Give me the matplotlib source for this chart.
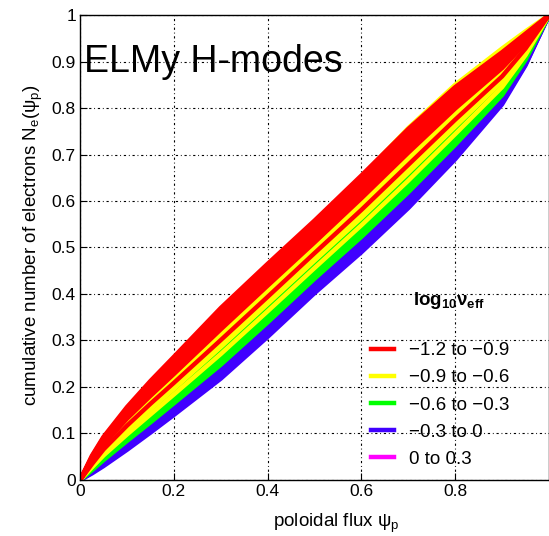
import matplotlib
matplotlib.use('Agg')
from matplotlib import pyplot as plt
from matplotlib.lines import Line2D

plt.rcParams['font.family'] = ['Liberation Sans', 'DejaVu Sans']
plt.rcParams['mathtext.fontset'] = 'custom'
plt.rcParams['mathtext.rm'] = 'Liberation Sans'
plt.rcParams['mathtext.it'] = 'Liberation Sans'
plt.rcParams['mathtext.bf'] = 'Liberation Sans:bold'

psi = [0, 0.025, 0.05, 0.1, 0.15, 0.2, 0.3, 0.4, 0.5, 0.6, 0.7, 0.8, 0.9, 0.95, 1.0]

# cumulative electron number, one row per discharge
red_curves = [
    [0, .052, .093, .157, .213, .265, .370, .465, .558, .655, .755, .845, .920, .960, 1],
    [0, .050, .091, .154, .207, .259, .362, .457, .550, .647, .746, .837, .914, .956, 1],
    [0, .048, .089, .151, .203, .253, .355, .449, .542, .639, .738, .830, .909, .953, 1],
    [0, .046, .085, .146, .197, .246, .347, .441, .534, .630, .729, .822, .903, .949, 1],
    [0, .044, .082, .141, .191, .240, .340, .434, .527, .622, .721, .814, .897, .946, 1],
    [0, .042, .079, .136, .186, .234, .332, .426, .519, .614, .712, .806, .891, .942, 1],
    [0, .040, .076, .132, .181, .228, .324, .418, .511, .606, .704, .799, .886, .939, 1],
    [0, .034, .066, .117, .164, .209, .301, .394, .488, .581, .678, .775, .868, .928, 1],
]
yellow_curves = [
    [0, .048, .088, .150, .204, .255, .358, .455, .552, .652, .757, .850, .928, .965, 1],
    [0, .038, .072, .127, .175, .221, .316, .410, .503, .597, .695, .791, .880, .935, 1],
    [0, .036, .069, .122, .169, .215, .309, .402, .496, .589, .687, .783, .874, .932, 1],
    [0, .032, .063, .113, .159, .203, .294, .387, .480, .573, .670, .768, .863, .925, 1],
    [0, .030, .059, .108, .152, .196, .286, .379, .472, .564, .661, .760, .857, .921, 1],
    [0, .027, .053, .098, .141, .184, .271, .363, .456, .548, .644, .744, .845, .914, 1],
]
green_curves = [
    [0, .029, .056, .103, .147, .190, .279, .371, .464, .556, .653, .752, .851, .918, 1],
    [0, .025, .050, .094, .136, .178, .264, .355, .449, .540, .636, .737, .840, .911, 1],
    [0, .023, .046, .089, .130, .171, .256, .347, .441, .531, .627, .729, .834, .907, 1],
    [0, .021, .043, .084, .124, .165, .248, .339, .433, .523, .619, .721, .828, .904, 1],
]
blue_curves = [
    [0, .020, .040, .079, .119, .159, .240, .331, .425, .515, .610, .713, .822, .900, 1],
    [0, .018, .037, .075, .114, .153, .233, .324, .418, .507, .602, .706, .817, .897, 1],
    [0, .016, .033, .070, .108, .146, .225, .316, .410, .498, .593, .698, .812, .894, 1],
    [0, .014, .030, .065, .102, .140, .218, .308, .402, .490, .585, .690, .808, .892, 1],
]
magenta_curves = []

groups = ['\u22121.2 to \u22120.9', '\u22120.9 to \u22120.6', '\u22120.6 to \u22120.3',
          '\u22120.3 to 0', '0 to 0.3']
colors = ['#ff0000', '#ffff00', '#00ff00', '#4000ff', '#ff00ff']
all_curves = [red_curves, yellow_curves, green_curves, blue_curves, magenta_curves]

fig = plt.figure(figsize=(5.49, 5.36), dpi=100)
ax = fig.add_axes([0.146, 0.1045, 0.854, 0.8675])

# bottom curves first, so each group sits over its lower neighbour
for curves, c in reversed(list(zip(all_curves, colors))):
    for N in reversed(curves):
        ax.plot(psi, N, color=c, lw=3.2, solid_capstyle='butt', solid_joinstyle='round')

ax.set_xlim(0, 1)
ax.set_ylim(0, 1)
ax.set_xticks([0, 0.2, 0.4, 0.6, 0.8])
ax.set_xticklabels(['0', '0.2', '0.4', '0.6', '0.8'])
ax.set_yticks([i / 10 for i in range(11)])
ax.set_yticklabels(['0', '0.1', '0.2', '0.3', '0.4', '0.5', '0.6', '0.7', '0.8', '0.9', '1'])
ax.tick_params(direction='in', length=5, labelsize=12.5, pad=3)
ax.grid(True, color='black', lw=0.8, linestyle=(0, (2, 2.5, 0.8, 2.5)))
for s in ax.spines.values():
    s.set_linewidth(1.0)

ax.set_xlabel('poloidal flux $ψ_\\mathrm{p}$', fontsize=13.5)
ax.xaxis.set_label_coords(0.545, -0.068)
ax.set_ylabel('cumulative number of electrons $\\mathrm{N}_\\mathrm{e}(ψ_\\mathrm{p})$',
              fontsize=13.5)
ax.yaxis.set_label_coords(-0.075, 0.505)

ax.text(0.008, 0.9, 'ELMy H-modes', fontsize=27, va='center', ha='left')

handles = [Line2D([], [], color=c, lw=3.2) for c in colors]
leg = ax.legend(handles, groups, loc='lower left', bbox_to_anchor=(0.675, 0.1275),
                bbox_transform=fig.transFigure, frameon=False, fontsize=13.5,
                handlelength=1.25, handletextpad=0.8, labelspacing=0.53,
                borderaxespad=0, borderpad=0)
fig.text(0.752, 0.439, '$\\mathbf{log}_{\\mathbf{10}}\\mathbf{ν}_{\\mathbf{eff}}$',
         fontsize=13.5, ha='left', va='center')

fig.savefig('out.png', dpi=100)
